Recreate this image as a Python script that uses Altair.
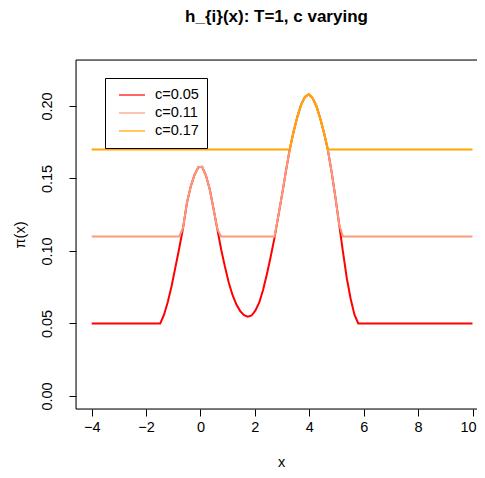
import altair as alt
import pandas as pd

# values
x_grid = [-1.48, -1.34, -1.20, -1.06, -0.92, -0.78, -0.64, -0.50, -0.36, -0.22,
          -0.08, 0.06, 0.20, 0.34, 0.48, 0.62, 0.76, 0.90, 1.04, 1.18,
          1.32, 1.46, 1.60, 1.74, 1.88, 2.02, 2.16, 2.30, 2.44, 2.58,
          2.72, 2.86, 3.00, 3.14, 3.28, 3.42, 3.56, 3.70, 3.84, 3.98,
          4.12, 4.26, 4.40, 4.54, 4.68, 4.82, 4.96, 5.10, 5.24, 5.38,
          5.52, 5.66, 5.80]
pi_vals = [0.050, 0.056, 0.065, 0.076, 0.089, 0.102, 0.116, 0.133, 0.1445, 0.1525,
           0.1578, 0.158, 0.152, 0.1425, 0.129, 0.115, 0.101, 0.089, 0.078, 0.0695,
           0.063, 0.0585, 0.0557, 0.0547, 0.0555, 0.059, 0.0645, 0.073, 0.084, 0.096,
           0.109, 0.124, 0.139, 0.155, 0.170, 0.182, 0.1925, 0.201, 0.2063, 0.208,
           0.2055, 0.200, 0.1915, 0.1815, 0.170, 0.1545, 0.137, 0.118, 0.099, 0.081,
           0.067, 0.056, 0.050]
x_ends = [-4, 10]
c_values = [0.05, 0.11, 0.17]
series_names = ["c=0.05", "c=0.11", "c=0.17"]
series_colors = ["#FF0000", "#FA9A7C", "#FFA500"]
x_ticks = [-4, -2, 0, 2, 4, 6, 8, 10]
y_ticks = [0.0, 0.05, 0.10, 0.15, 0.20]

rows = []
for name, c in zip(series_names, c_values):
    xs = [x_ends[0]] + x_grid + [x_ends[1]]
    ys = [c] + [max(c, v) for v in pi_vals] + [c]
    for xv, yv in zip(xs, ys):
        rows.append({"x": xv, "y": yv, "series": name})
df = pd.DataFrame(rows)

W, H = 401, 349
FONT = "Liberation Sans"
FS = 14.5

color_scale = alt.Scale(domain=series_names, range=series_colors)
x_enc = alt.X("x:Q", scale=alt.Scale(domain=[-4.577, 10.165], nice=False, zero=False),
              axis=alt.Axis(values=x_ticks, format="d", domain=False, grid=False,
                            tickSize=7, tickColor="black", tickWidth=1,
                            labelPadding=4, labelFlush=False, labelOverlap=False,
                            labelOffset={"condition": {"test": "datum.value == 10", "value": -4.5},
                                         "value": 0},
                            labelFont=FONT, labelFontSize=FS, labelColor="black",
                            title="x", titleX=205, titleY=57, titleBaseline="alphabetic",
                            titleAlign="center", titleAngle=0,
                            titleFont=FONT, titleFontSize=FS, titleFontWeight="normal",
                            titleColor="black"))
y_enc = alt.Y("y:Q", scale=alt.Scale(domain=[-0.009, 0.2317], nice=False, zero=False),
              axis=alt.Axis(values=y_ticks, format=".2f", domain=False, grid=False,
                            tickSize=7, tickColor="black", tickWidth=1,
                            labelAngle=270, labelAlign="center", labelBaseline="middle",
                            labelPadding=22, labelFlush=False, labelOverlap=False,
                            labelFont=FONT, labelFontSize=FS, labelColor="black",
                            title="π(x)", titleX=-56, titleY=174.5, titleAngle=270,
                            titleAlign="center", titleBaseline="middle",
                            titleFont=FONT, titleFontSize=FS, titleFontWeight="normal",
                            titleColor="black"))

legend = alt.Legend(orient="none", legendX=29, legendY=18, title=None,
                    symbolType="stroke", symbolSize=676, symbolStrokeWidth=1.2,
                    padding=8, symbolOffset=5, labelOffset=9, rowPadding=0,
                    clipHeight=18, strokeColor="black", fillColor="white",
                    labelFont=FONT, labelFontSize=FS, labelColor="black",
                    cornerRadius=0)

layers = []
for name in series_names:
    layers.append(
        alt.Chart(df).transform_filter(alt.datum.series == name)
        .mark_line(strokeWidth=2)
        .encode(x=x_enc, y=y_enc,
                color=alt.Color("series:N", scale=color_scale, legend=legend))
    )

one = alt.Data(values=[{"k": 1}])
frame_top = alt.Chart(one).mark_rule(color="black", strokeWidth=1).encode(
    x=alt.value(0), x2=alt.value(W), y=alt.value(0))
frame_bottom = alt.Chart(one).mark_rule(color="black", strokeWidth=1).encode(
    x=alt.value(0), x2=alt.value(W), y=alt.value(H))
frame_left = alt.Chart(one).mark_rule(color="black", strokeWidth=1).encode(
    x=alt.value(0), y=alt.value(0), y2=alt.value(H))

chart = alt.layer(*layers, frame_top, frame_bottom, frame_left).properties(
    width=W, height=H,
    padding={"left": 68, "top": 52, "right": 0, "bottom": 60},
    autosize=alt.AutoSizeParams(type="none"),
    title=alt.TitleParams(text="h_{i}(x): T=1, c varying", font=FONT, fontSize=17,
                          fontWeight="bold", color="black", anchor="middle",
                          frame="group", baseline="alphabetic", offset=20.5),
).configure_view(strokeWidth=0).configure(background="white")

chart.save("out.html", embed_options={"renderer": "svg", "actions": False})
